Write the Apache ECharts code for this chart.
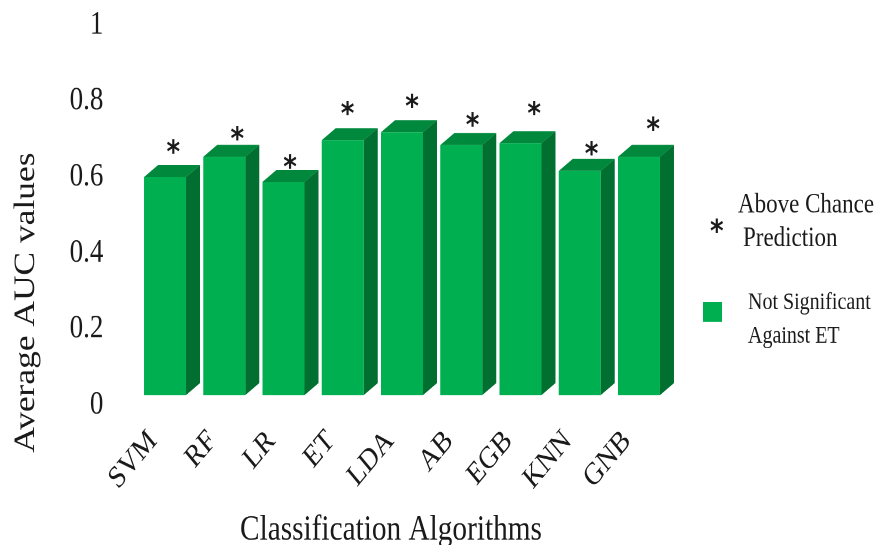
<!DOCTYPE html>
<html>
<head>
<meta charset="utf-8">
<style>
html,body{margin:0;padding:0;background:#fff;width:878px;height:545px}
/* Tall, narrow lettering and steep labels come from stretching the drawing vertically */
#chart{width:878px;height:454px;transform-origin:0 0;transform:scaleY(1.2004)}
</style>
<script src="https://cdn.jsdelivr.net/npm/echarts@6/dist/echarts.min.js"></script>
</head>
<body>
<div id="chart"></div>
<script>
// Average AUC per classifier
const categories = ['SVM', 'RF', 'LR', 'ET', 'LDA', 'AB', 'EGB', 'KNN', 'GNB'];
const aucValues = [0.600, 0.653, 0.587, 0.697, 0.718, 0.684, 0.689, 0.616, 0.653];
// Where each significance asterisk sits: bar index with a small shift, and height on the AUC scale
const starX = [0.14, 0.22, 0.11, 0.08, 0.17, 0.19, 0.23, 0.20, 0.24];
const starY = [0.68, 0.715, 0.64, 0.78, 0.80, 0.75, 0.78, 0.675, 0.74];
const yTicks = ['0', '0.2', '0.4', '0.6', '0.8', '1'];

const FRONT = '#00b050', TOP = '#00893c', SIDE = '#006f30';
const SERIF = '"Liberation Serif", serif';
const INK = '#1a1a1a';
const DEPTH_X = 14, DEPTH_Y = 10, FLOOR_LIFT = 8.3, BAR_WIDTH = 42;

// Extruded column: front face, top and right side, standing on a floor just above the zero line
function renderColumn(params, api) {
  const top = api.coord([api.value(0), api.value(1)]);
  const baseY = api.coord([api.value(0), 0])[1] - FLOOR_LIFT;
  const x0 = top[0] - BAR_WIDTH / 2, x1 = x0 + BAR_WIDTH, y0 = top[1];
  return {
    type: 'group',
    children: [
      { type: 'polygon', shape: { points: [[x0, y0], [x1, y0], [x1 + DEPTH_X, y0 - DEPTH_Y], [x0 + DEPTH_X, y0 - DEPTH_Y]] }, style: { fill: TOP } },
      { type: 'polygon', shape: { points: [[x1, y0], [x1 + DEPTH_X, y0 - DEPTH_Y], [x1 + DEPTH_X, baseY - DEPTH_Y], [x1, baseY]] }, style: { fill: SIDE } },
      { type: 'rect', shape: { x: x0, y: y0, width: BAR_WIDTH, height: baseY - y0 }, style: { fill: FRONT } }
    ]
  };
}

// The asterisk glyph rides high in its line box, so the text is nudged down onto its point
function renderStar(params, api) {
  const p = api.coord([api.value(0), api.value(1)]);
  return {
    type: 'text',
    x: p[0], y: p[1] + 6,
    style: { text: '*', font: 'bold 26px "DejaVu Sans"', fill: INK, align: 'center', verticalAlign: 'middle' }
  };
}

const chart = echarts.init(document.getElementById('chart'), null, { renderer: 'canvas', devicePixelRatio: 2 });
chart.setOption({
  animation: false,
  backgroundColor: '#fff',
  grid: { left: 135.4, top: 20.8, width: 533.2, height: 316.6, outerBoundsMode: 'none' },
  xAxis: [
    {
      type: 'category', data: categories,
      axisLine: { show: false }, axisTick: { show: false },
      axisLabel: { rotate: 45, margin: 14, padding: [0, 17, 0, 0], fontFamily: SERIF, fontSize: 26, color: INK, interval: 0 },
      name: 'Classification Algorithms', nameLocation: 'middle', nameGap: 90,
      nameTextStyle: { fontFamily: SERIF, fontSize: 29.3, color: INK, padding: [0, 22, 0, 0] }
    },
    { type: 'value', min: -0.5, max: 8.5, show: false }
  ],
  yAxis: {
    type: 'value', min: 0, max: 1, interval: 0.2,
    splitLine: { show: false }, axisLine: { show: false }, axisTick: { show: false },
    axisLabel: {
      margin: 32, padding: [3.4, 0, 0, 0], fontFamily: SERIF, fontSize: 27, color: INK,
      formatter: v => yTicks[Math.round(v * 5)]
    },
    name: 'Average AUC values', nameLocation: 'middle', nameGap: 94,
    nameTextStyle: { fontFamily: SERIF, fontSize: 29.5, color: INK, padding: [0, 146, 0, 0] }
  },
  series: [
    {
      type: 'custom', xAxisIndex: 0, yAxisIndex: 0, renderItem: renderColumn,
      encode: { x: 0, y: 1 }, data: aucValues.map((v, i) => [i, v])
    },
    {
      type: 'custom', xAxisIndex: 1, yAxisIndex: 0, renderItem: renderStar, z: 5,
      encode: { x: 0, y: 1 }, data: starY.map((v, i) => [i + starX[i], v])
    }
  ],
  // Key on the right: asterisk and swatch with their captions
  graphic: [
    { type: 'text', left: 710, top: 181, style: { text: '*', font: 'bold 26px "DejaVu Sans"', fill: INK } },
    { type: 'text', left: 738, top: 159.5, style: { text: 'Above Chance', font: '23px ' + SERIF, fill: INK } },
    { type: 'text', left: 743, top: 187.5, style: { text: 'Prediction', font: '23px ' + SERIF, fill: INK } },
    { type: 'rect', shape: { x: 703, y: 251.5, width: 19, height: 16.5 }, style: { fill: FRONT } },
    { type: 'text', left: 748, top: 242, style: { text: 'Not Significant', font: '20px ' + SERIF, fill: INK } },
    { type: 'text', left: 748, top: 270, style: { text: 'Against ET', font: '20px ' + SERIF, fill: INK } }
  ]
});
</script>
</body>
</html>
